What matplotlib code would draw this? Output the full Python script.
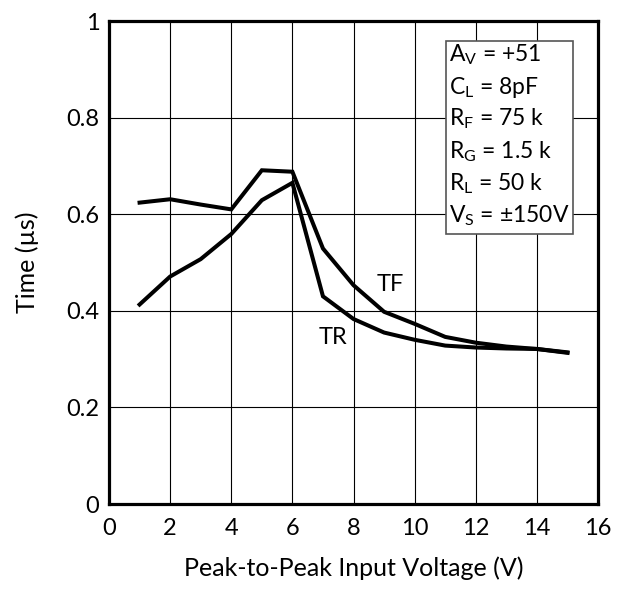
import matplotlib
matplotlib.use("Agg")
import matplotlib.pyplot as plt
import matplotlib.patches as mpatches

plt.rcParams['font.family'] = ['Lato', 'DejaVu Sans']
plt.rcParams['mathtext.fontset'] = 'custom'
plt.rcParams['mathtext.rm'] = 'Lato'

# data
voltage = [1, 2, 3, 4, 5, 6, 7, 8, 9, 10, 11, 12, 13, 14, 15]
tf = [0.624, 0.631, 0.620, 0.610, 0.691, 0.688, 0.529, 0.453, 0.398, 0.373,
      0.346, 0.334, 0.326, 0.321, 0.313]
tr = [0.413, 0.471, 0.507, 0.559, 0.629, 0.665, 0.430, 0.383, 0.355, 0.340,
      0.328, 0.324, 0.322, 0.321, 0.314]
x_ticks = [0, 2, 4, 6, 8, 10, 12, 14, 16]
y_ticks = [0, 0.2, 0.4, 0.6, 0.8, 1]
y_labels = ["0", "0.2", "0.4", "0.6", "0.8", "1"]
conditions = [r"A$_\mathregular{V}$ = +51", r"C$_\mathregular{L}$ = 8pF",
              r"R$_\mathregular{F}$ = 75 k", r"R$_\mathregular{G}$ = 1.5 k",
              r"R$_\mathregular{L}$ = 50 k", r"V$_\mathregular{S}$ = ±150V"]

fig = plt.figure(figsize=(6.24, 5.89), dpi=100)
ax = fig.add_axes([0.1747, 0.1443, 0.7837, 0.82])

ax.plot(voltage, tf, color="black", lw=2.9, solid_joinstyle="miter", zorder=3)
ax.plot(voltage, tr, color="black", lw=2.9, solid_joinstyle="miter", zorder=3)

ax.set_xlim(0, 16)
ax.set_ylim(0, 1)
ax.set_xticks(x_ticks)
ax.set_yticks(y_ticks)
ax.set_yticklabels(y_labels)
ax.tick_params(length=0, labelsize=17)
ax.tick_params(axis="x", pad=10)
ax.tick_params(axis="y", pad=7)
ax.grid(True, color="black", lw=0.8)
for s in ax.spines.values():
    s.set_linewidth(2.3)

ax.set_xlabel("Peak-to-Peak Input Voltage (V)", fontsize=18)
ax.set_ylabel("Time (µs)", fontsize=18)
ax.xaxis.set_label_coords(0.5, -0.108)
ax.yaxis.set_label_coords(-0.143, 0.5)

ax.text(9.2, 0.455, "TF", fontsize=17, ha="center", va="center")
ax.text(7.33, 0.344, "TR", fontsize=17, ha="center", va="center")

# conditions box
box = mpatches.Rectangle((0.689, 0.559), 0.26, 0.40, transform=ax.transAxes,
                         facecolor="white", edgecolor="#555555", lw=1.2, zorder=4)
ax.add_patch(box)
line_y = [0.930, 0.863, 0.799, 0.729, 0.663, 0.598]
for yy, txt in zip(line_y, conditions):
    ax.text(0.695, yy, txt, transform=ax.transAxes, fontsize=16.5,
            ha="left", va="center", zorder=5)

fig.savefig("out.png", dpi=100)
